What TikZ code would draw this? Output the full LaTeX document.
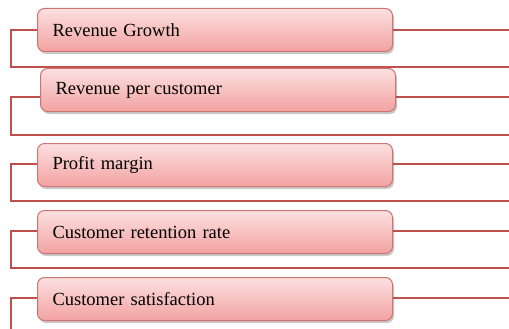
\documentclass[tikz,border=0pt]{standalone}
\usepackage{fontspec}
\setmainfont[WordSpace=1.5]{Liberation Serif}
\usetikzlibrary{shadows,backgrounds}

\definecolor{myred}{RGB}{192,80,77}
\definecolor{myrand}{RGB}{208,116,114}
\definecolor{mypinkhell}{RGB}{252,224,224}
\definecolor{mypinkdunkel}{RGB}{242,162,161}

\begin{document}
\begin{tikzpicture}[x=1pt,y=-1pt,
    kasten/.style={draw=myrand, line width=1pt, rounded corners=7pt,
        top color=mypinkhell, bottom color=mypinkdunkel,
        anchor=north west, minimum height=43pt, text width=325pt,
        inner xsep=15pt, align=left,
        font=\fontsize{18.5}{20}\selectfont,
        drop shadow={shadow xshift=1.5pt, shadow yshift=-2.5pt,
            opacity=0.3, fill=black!70}},
    linie/.style={draw=myred, line width=2.4pt}]

    \useasboundingbox (0,0) rectangle (509,329);

    %Anschlusspunkte links, unten und rechts
    \coordinate (l1) at (11,30);  \coordinate (u1) at (11,67);  \coordinate (r1) at (509,30);
    \coordinate (l2) at (11,97);  \coordinate (u2) at (11,135); \coordinate (r2) at (509,97);
    \coordinate (l3) at (11,164); \coordinate (u3) at (11,201); \coordinate (r3) at (509,164);
    \coordinate (l4) at (11,231); \coordinate (u4) at (11,268); \coordinate (r4) at (509,231);
    \coordinate (l5) at (11,298); \coordinate (u5) at (11,330); \coordinate (r5) at (509,298);

    %Kaesten
    \node [kasten] (k1) at (37,8)   {Revenue Growth};
    \node [kasten] (k2) at (40,68)  {Revenue per\hspace{-2pt} customer};
    \node [kasten] (k3) at (37,143) {Profit margin};
    \node [kasten] (k4) at (37,210) {Customer retention rate};
    \node [kasten] (k5) at (37,277) {Customer satisfaction};

    %Linien (hinter den Kaesten)
    \begin{scope}[on background layer]
    \draw [linie] (l1 -| k1.west) -- (l1) -- (u1) -- (u1 -| r1);
    \draw [linie] (l1 -| k1.east) -- (r1);
    \draw [linie] (l2 -| k2.west) -- (l2) -- (u2) -- (u2 -| r2);
    \draw [linie] (l2 -| k2.east) -- (r2);
    \draw [linie] (l3 -| k3.west) -- (l3) -- (u3) -- (u3 -| r3);
    \draw [linie] (l3 -| k3.east) -- (r3);
    \draw [linie] (l4 -| k4.west) -- (l4) -- (u4) -- (u4 -| r4);
    \draw [linie] (l4 -| k4.east) -- (r4);
    \draw [linie] (l5 -| k5.west) -- (l5) -- (u5);
    \draw [linie] (l5 -| k5.east) -- (r5);
    \end{scope}

\end{tikzpicture}
\end{document}
